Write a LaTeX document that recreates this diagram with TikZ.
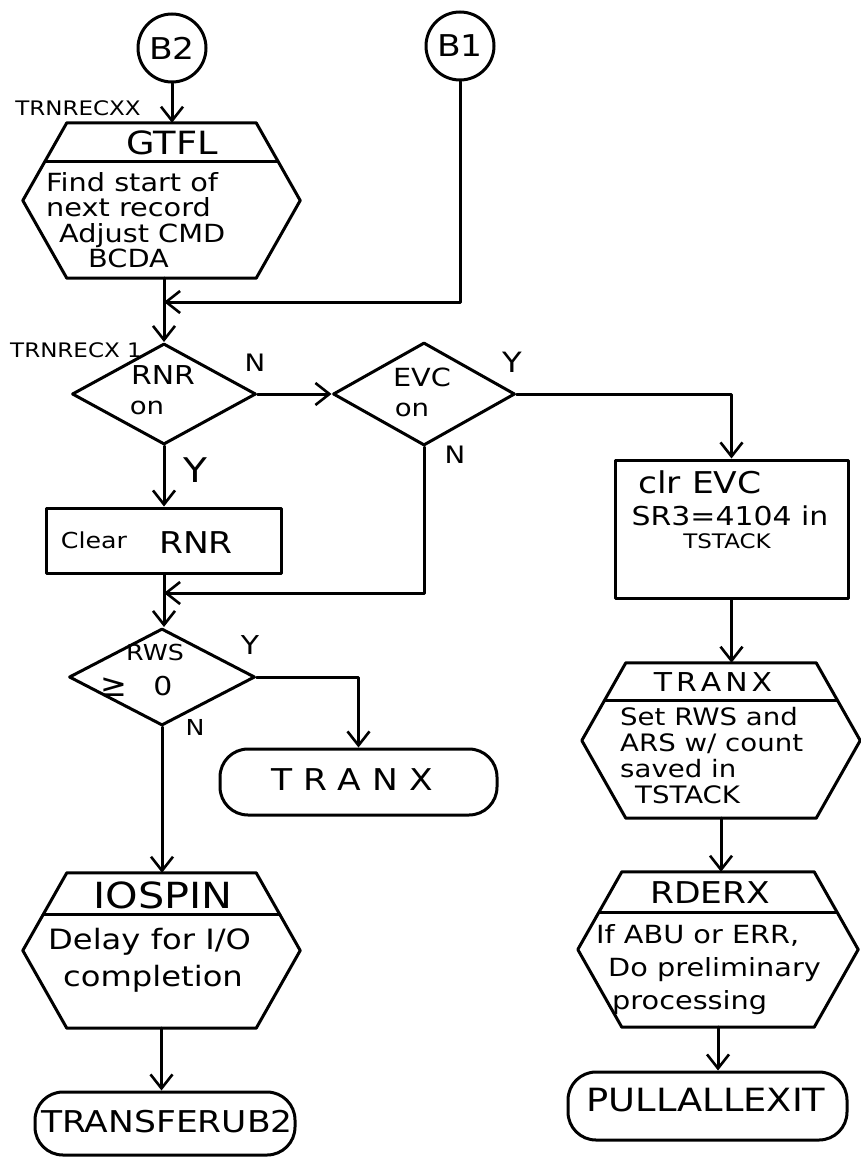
\documentclass[tikz,border=0pt]{standalone}
\usepackage{fontspec}
\newfontfamily\hand[FakeStretch=1.15]{DejaVu Sans}
\newfontfamily\symfont{DejaVu Sans}
\usetikzlibrary{arrows.meta,shapes.geometric,calc}
\tikzset{
  ln/.style={line width=3pt, line cap=round, line join=round},
  arr/.style={ln, -{Straight Barb[length=14pt,width=22pt,line width=2.6pt]}},
  frm/.style 2 args={rectangle, inner sep=0pt, minimum width=#1pt, minimum height=#2pt},
  dia/.style 2 args={diamond, draw, ln, inner sep=0pt, minimum width=#1pt, minimum height=#2pt},
  term/.style 2 args={rectangle, draw, ln, rounded corners=28pt, inner sep=0pt, minimum width=#1pt, minimum height=#2pt},
  proc/.style 2 args={rectangle, draw, ln, inner sep=0pt, minimum width=#1pt, minimum height=#2pt},
  conn/.style={circle, draw, ln, inner sep=0pt, minimum size=68pt, font={\hand\fontsize{30}{30}\selectfont}},
  tx/.style={inner sep=0pt, font={\hand\fontsize{#1}{#1}\selectfont}},
  body/.style 2 args={inner sep=0pt, anchor=north west, align=left, font={\hand\fontsize{#1}{#2}\selectfont}}
}
\newcommand{\hexdraw}[2]{%
  \draw[ln] ([xshift=44pt]#1.north west) -- ([xshift=-44pt]#1.north east) -- (#1.east)
    -- ([xshift=-44pt]#1.south east) -- ([xshift=44pt]#1.south west) -- (#1.west) -- cycle;
  \draw[ln] ($([xshift=44pt]#1.north west)!#2!(#1.west)$) -- ($([xshift=-44pt]#1.north east)!#2!(#1.east)$);
}
\begin{document}
\begin{tikzpicture}[x=1pt,y=-1pt]
\fill[white] (0,0) rectangle (860,1158);
\useasboundingbox (0,0) rectangle (860,1158);

% connectors (circles)
\node[conn] (b2) at (172,48) {B2};
\node[conn] (b1) at (460,46) {B1};

% GTFL hexagon
\node[frm={277}{155}] (gtfl) at (161.5,200.5) {};
\hexdraw{gtfl}{0.5}
\node[tx=32] (gtflt) at (172,143) {GTFL};
\node[body={25}{25.5}] (gtflb) at (46,172) {Find start of\\next record\\\hspace*{13pt}Adjust CMD\\\hspace*{42pt}BCDA};
\node[tx=20] (lab1) at (78,108) {TRNRECXX};

% decisions
\node[dia={184}{101}] (rnr) at (164,394) {};
\node[tx=26] (rnrt) at (163,375) {RNR};
\node[tx=24] (rnro) at (147,408) {on};
\node[tx=20] (lab2) at (76,350) {TRNRECX 1};

\node[dia={182}{103}] (evc) at (424,394) {};
\node[tx=25] (evct) at (422,377) {EVC};
\node[tx=24] (evco) at (412,410) {on};

\node[proc={235}{65}] (clear) at (164,540.5) {};
\node[tx=22] (cleart) at (94,540) {Clear};
\node[tx=30] (clearr) at (196,543) {RNR};

\node[dia={186}{97}] (rws) at (162,677) {};
\node[tx=22] (rwst) at (155,652) {RWS};
\node[inner sep=0pt, font={\symfont\fontsize{32}{32}\selectfont}] (rwsge) at (114,687) {≥};
\node[tx=26] (rwsz) at (163,686) {0};

\node[term={277}{66}] (tx) at (358.5,782) {};
\node[tx=30] (txt) at (352,780) {T R A N X};

% IOSPIN
\node[frm={277}{155}] (io) at (161.5,950.5) {};
\hexdraw{io}{0.54}
\node[tx=36] (iot) at (163,895) {IOSPIN};
\node[body={28}{37}] (iob) at (48,928) {Delay for I/O\\\hspace*{15pt}completion};

\node[term={260}{63}] (tub) at (165,1123.5) {};
\node[tx=30] (tubt) at (167,1122) {TRANSFERUB2};

% right column
\node[proc={233}{138}] (clr) at (731.5,529) {};
\node[tx=30] (clrt1) at (700,482) {clr EVC};
\node[tx=26] (clrt2) at (730,516) {SR3=4104 in};
\node[tx=20] (clrt3) at (727,541) {TSTACK};

\node[frm={278}{155}] (tranx) at (721,740.5) {};
\hexdraw{tranx}{0.48}
\node[tx=26] (tranxt) at (713,682) {T\kern4pt R\kern4pt A\kern4pt N\kern4pt X};
\node[body={24}{26}] (tranxb) at (620,707) {Set RWS and\\ARS w/ count\\saved in\\\hspace*{15pt}TSTACK};

\node[frm={280}{155}] (rderx) at (718,949.5) {};
\hexdraw{rderx}{0.52}
\node[tx=30] (rderxt) at (710,893) {RDERX};
\node[body={25}{33}] (rderxb) at (596,924) {If ABU or ERR,\\\hspace*{12pt}Do preliminary\\\hspace*{16pt}processing};

\node[term={279}{68}] (pull) at (707.5,1106) {};
\node[tx=32] (pullt) at (706,1100) {PULLALLEXIT};

% branch labels
\node[tx=24] (ln1) at (255,363) {N};
\node[tx=28] (ly1) at (512,362) {Y};
\node[tx=24] (ln2) at (455,455) {N};
\node[tx=34] (ly2) at (195,470) {Y};
\node[tx=26] (ly3) at (250,645) {Y};
\node[tx=22] (ln3) at (195,727) {N};

% flow lines
\coordinate (j1) at (164,302);
\coordinate (j2) at (164,593);
\draw[arr] (b2.south) -- (b2.south |- gtfl.north);
\draw[arr] (gtfl.south -| rnr.north) -- (rnr.north);
\draw[arr] (b1.south) -- (b1.south |- j1) -- (j1);
\draw[arr] (rnr.east) -- (evc.west);
\draw[arr] (evc.east) -- (evc.east -| clr.north) -- (clr.north);
\draw[arr] (rnr.south) -- (rnr.south |- clear.north);
\draw[arr] (clear.south) -- (clear.south |- rws.north);
\draw[arr] (evc.south) -- (evc.south |- j2) -- (j2);
\draw[arr] (rws.east) -- (rws.east -| tx.north) -- (tx.north);
\draw[arr] (rws.south) -- (rws.south |- io.north);
\draw[arr] (io.south) -- (io.south |- tub.north);
\draw[arr] (clr.south) -- (clr.south |- tranx.north);
\draw[arr] (tranx.south) -- (tranx.south |- rderx.north);
\draw[arr] (rderx.south) -- (rderx.south |- pull.north);
\end{tikzpicture}
\end{document}
